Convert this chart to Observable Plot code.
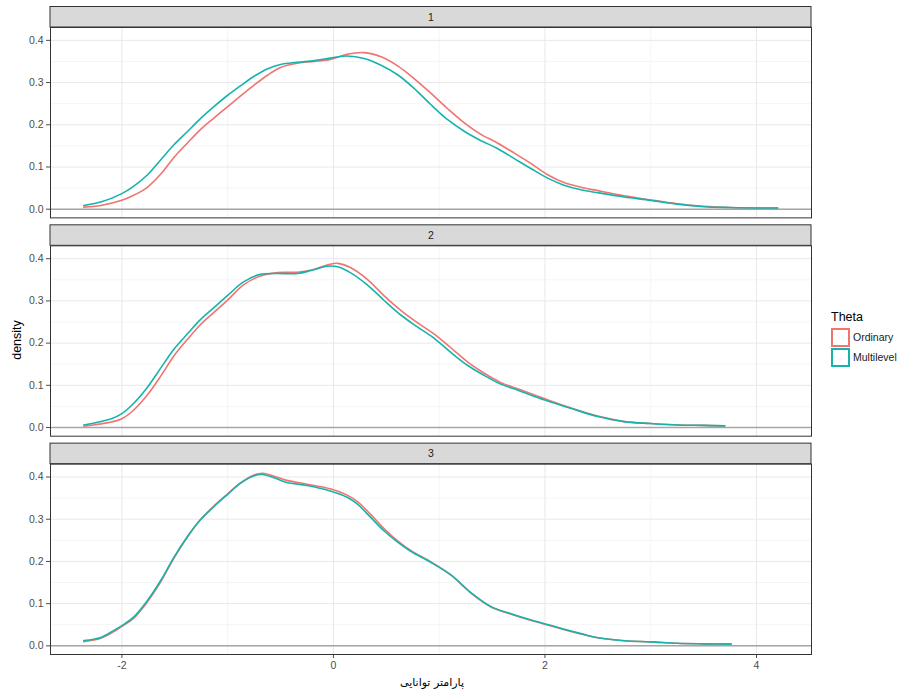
<!DOCTYPE html>
<html>
<head>
<meta charset="utf-8">
<script src="https://cdn.jsdelivr.net/npm/d3@7"></script>
<script src="https://cdn.jsdelivr.net/npm/@observablehq/plot@0.6"></script>
<style>
  html, body { margin: 0; padding: 0; background: #fff; }
  #wrap { position: relative; width: 898px; height: 690px; overflow: hidden; font-family: "Liberation Sans", Arial, sans-serif; }
  #chart { position: absolute; left: 0; top: 0; }
  .ytitle { position: absolute; left: 17px; top: 340px; transform: translate(-50%, -50%) rotate(-90deg); font-size: 12.5px; color: #000; white-space: nowrap; }
  .xtitle { position: absolute; left: 432px; top: 682px; transform: translate(-50%, -50%); font-size: 11px; color: #000; white-space: nowrap; font-family: "DejaVu Sans", "Noto Sans", sans-serif; }
  #legend { position: absolute; left: 831px; top: 310px; }
  #legend .ltitle { font-size: 12.5px; color: #000; margin-bottom: 3px; }
  #legend .item { display: flex; align-items: center; height: 20px; }
  #legend .key { width: 15px; height: 15px; border: 2px solid; background: #fff; margin-right: 3px; }
  #legend .lab { font-size: 10.5px; color: #1a1a1a; }
</style>
</head>
<body>
<div id="wrap">
  <div id="chart"></div>
  <div class="ytitle">density</div>
  <div class="xtitle" dir="rtl">پارامتر توانایی</div>
  <div id="legend"></div>
</div>
<script>
// ---- Data ----
const panels = ["1", "2", "3"];
const seriesNames = ["Ordinary", "Multilevel"];
const seriesColors = ["#F07470", "#14B4AC"];
const legendTitle = "Theta";

const xTicks = [-2, 0, 2, 4];
const xMinor = [-1, 1, 3];
const yTicks = [0, 0.1, 0.2, 0.3, 0.4];
const yMinor = [0.05, 0.15, 0.25, 0.35];

// Panel 1
const x1 = [-2.36, -2.2, -2.0, -1.89, -1.76, -1.63, -1.51, -1.38, -1.26, -1.13, -1.0, -0.88, -0.75, -0.62, -0.5, -0.34, -0.18, -0.03, 0.13, 0.29, 0.45, 0.61, 0.76, 0.92, 1.08, 1.24, 1.39, 1.55, 1.71, 1.87, 2.03, 2.18, 2.34, 2.5, 2.75, 3.0, 3.25, 3.5, 3.75, 4.0, 4.2];
const p1Ordinary = [0.005, 0.009, 0.021, 0.033, 0.052, 0.084, 0.122, 0.157, 0.188, 0.216, 0.243, 0.268, 0.294, 0.318, 0.336, 0.346, 0.350, 0.355, 0.367, 0.371, 0.361, 0.339, 0.310, 0.275, 0.238, 0.204, 0.178, 0.157, 0.133, 0.108, 0.081, 0.063, 0.052, 0.044, 0.032, 0.022, 0.013, 0.007, 0.004, 0.003, 0.003];
const p1Multilevel = [0.009, 0.017, 0.037, 0.054, 0.081, 0.118, 0.152, 0.184, 0.214, 0.243, 0.270, 0.292, 0.315, 0.333, 0.343, 0.348, 0.352, 0.358, 0.363, 0.357, 0.341, 0.318, 0.287, 0.248, 0.212, 0.184, 0.163, 0.144, 0.120, 0.096, 0.073, 0.057, 0.046, 0.039, 0.029, 0.021, 0.012, 0.006, 0.004, 0.003, 0.003];

// Panel 2
const x2 = [-2.36, -2.1, -2.0, -1.89, -1.76, -1.63, -1.51, -1.38, -1.26, -1.13, -1.0, -0.85, -0.69, -0.53, -0.34, -0.21, -0.06, 0.04, 0.16, 0.32, 0.48, 0.64, 0.79, 0.95, 1.11, 1.27, 1.43, 1.58, 1.75, 2.0, 2.25, 2.5, 2.75, 3.0, 3.25, 3.5, 3.7];
const p2Ordinary = [0.003, 0.013, 0.021, 0.041, 0.077, 0.123, 0.169, 0.209, 0.243, 0.273, 0.302, 0.338, 0.359, 0.367, 0.368, 0.373, 0.385, 0.389, 0.379, 0.351, 0.312, 0.277, 0.249, 0.222, 0.189, 0.155, 0.128, 0.107, 0.091, 0.068, 0.046, 0.027, 0.014, 0.0095, 0.006, 0.005, 0.004];
const p2Multilevel = [0.006, 0.021, 0.033, 0.057, 0.095, 0.142, 0.185, 0.222, 0.255, 0.284, 0.313, 0.345, 0.363, 0.365, 0.365, 0.372, 0.382, 0.381, 0.367, 0.338, 0.301, 0.266, 0.239, 0.212, 0.178, 0.147, 0.123, 0.103, 0.088, 0.065, 0.045, 0.026, 0.014, 0.0095, 0.006, 0.005, 0.004];

// Panel 3
const x3 = [-2.36, -2.2, -2.08, -2.0, -1.89, -1.76, -1.63, -1.51, -1.38, -1.26, -1.13, -1.0, -0.88, -0.75, -0.67, -0.56, -0.44, -0.25, -0.03, 0.13, 0.23, 0.35, 0.48, 0.61, 0.73, 0.92, 1.11, 1.3, 1.49, 1.68, 1.87, 2.06, 2.34, 2.5, 2.75, 3.0, 3.25, 3.5, 3.76];
const p3Ordinary = [0.010, 0.018, 0.033, 0.046, 0.065, 0.104, 0.153, 0.207, 0.258, 0.298, 0.331, 0.360, 0.386, 0.405, 0.409, 0.402, 0.392, 0.383, 0.372, 0.357, 0.341, 0.312, 0.277, 0.248, 0.226, 0.199, 0.168, 0.125, 0.092, 0.075, 0.060, 0.047, 0.028, 0.019, 0.012, 0.0094, 0.006, 0.0047, 0.004];
const p3Multilevel = [0.0125, 0.020, 0.036, 0.048, 0.068, 0.107, 0.156, 0.209, 0.259, 0.298, 0.330, 0.359, 0.385, 0.403, 0.406, 0.398, 0.387, 0.380, 0.367, 0.352, 0.335, 0.305, 0.272, 0.245, 0.224, 0.198, 0.168, 0.126, 0.093, 0.076, 0.061, 0.048, 0.029, 0.019, 0.012, 0.0094, 0.006, 0.0047, 0.004];

// ---- Build table ----
const panelData = [
  {panel: "1", x: x1, ys: [p1Ordinary, p1Multilevel]},
  {panel: "2", x: x2, ys: [p2Ordinary, p2Multilevel]},
  {panel: "3", x: x3, ys: [p3Ordinary, p3Multilevel]}
];
const rows = [];
seriesNames.forEach((s, si) => {
  panelData.forEach(p => {
    p.x.forEach((xv, i) => rows.push({panel: p.panel, series: s, x: xv, y: p.ys[si][i]}));
  });
});

// ---- Layout ----
const W = 820, H = 690;
const mL = 50, mR = 9, mT = 27, mB = 36;
const padInner = 0.128;
const xDomain = [-2.675, 4.52];
const yDomain = [-0.0205, 0.4305];
const step = (H - mT - mB) / (panels.length - padInner);
const bandH = step * (1 - padInner);
const pxPerUnit = bandH / (yDomain[1] - yDomain[0]);
const stripH = 20.5 / pxPerUnit;
const stripTop = yDomain[1] + stripH;
const font = "Liberation Sans, Arial, sans-serif";

const chart = Plot.plot({
  width: W, height: H,
  marginLeft: mL, marginRight: mR, marginTop: mT, marginBottom: mB,
  style: {fontFamily: font, fontSize: "10.5px", color: "#4d4d4d", background: "transparent"},
  x: {domain: xDomain, ticks: xTicks, tickFormat: d => String(d), tickSize: 4, tickPadding: 3, label: null},
  y: {domain: yDomain, ticks: yTicks, tickFormat: d3.format(".1f"), tickSize: 4, tickPadding: 3, label: null},
  fy: {domain: panels, axis: null, paddingInner: padInner, paddingOuter: 0, round: false, label: null},
  color: {domain: seriesNames, range: seriesColors},
  marks: [
    Plot.ruleY(yMinor, {stroke: "#f0f0f0", strokeWidth: 0.7}),
    Plot.ruleX(xMinor, {stroke: "#f0f0f0", strokeWidth: 0.7}),
    Plot.ruleY(yTicks, {stroke: "#e8e8e8", strokeWidth: 1}),
    Plot.ruleX(xTicks, {stroke: "#e8e8e8", strokeWidth: 1}),
    Plot.ruleY([0], {stroke: "#a6a6a6", strokeWidth: 1.5}),
    Plot.line(rows, {x: "x", y: "y", z: "series", stroke: "series", fy: "panel", strokeWidth: 1.6, curve: "catmull-rom"}),
    Plot.frame({stroke: "#333333", strokeWidth: 1}),
    Plot.rect(panels, {fy: d => d, x1: xDomain[0], x2: xDomain[1], y1: yDomain[1], y2: stripTop, fill: "#d9d9d9", stroke: "#333333", strokeWidth: 1}),
    Plot.text(panels, {fy: d => d, x: (xDomain[0] + xDomain[1]) / 2, y: (yDomain[1] + stripTop) / 2, text: d => d, fill: "#1a1a1a", fontSize: 10.5})
  ]
});
document.getElementById("chart").appendChild(chart);

// ---- Legend ----
const legend = document.getElementById("legend");
const t = document.createElement("div");
t.className = "ltitle"; t.textContent = legendTitle;
legend.appendChild(t);
seriesNames.forEach((s, i) => {
  const item = document.createElement("div"); item.className = "item";
  const k = document.createElement("div"); k.className = "key"; k.style.borderColor = seriesColors[i];
  const l = document.createElement("span"); l.className = "lab"; l.textContent = s;
  item.appendChild(k); item.appendChild(l); legend.appendChild(item);
});
</script>
</body>
</html>
